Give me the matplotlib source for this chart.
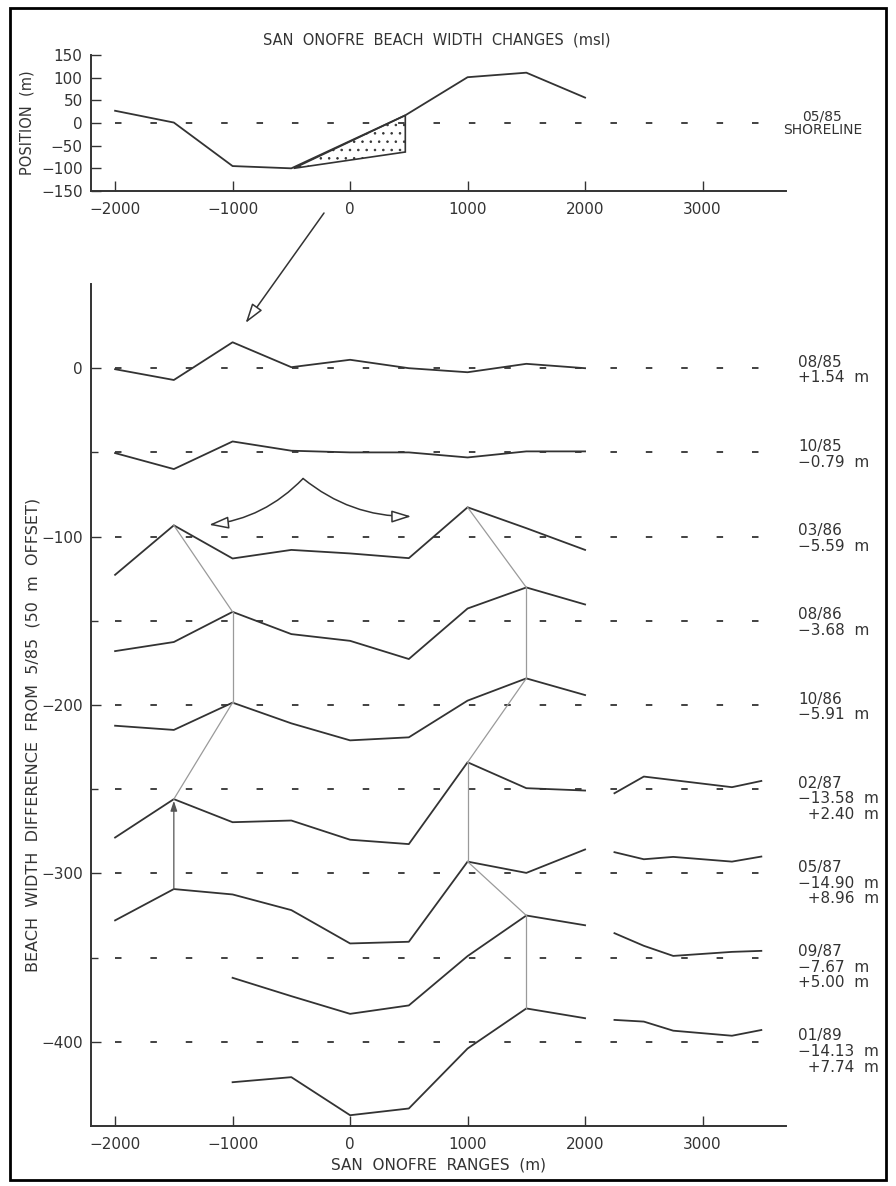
import matplotlib
matplotlib.use('Agg')
import matplotlib.pyplot as plt
from matplotlib.patches import Polygon, Rectangle

# 05/85 shoreline position (top panel)
shore_x = [-2000, -1500, -1000, -500, 470, 1000, 1500, 2000]
shore_y = [27, 1, -95, -100, 17, 101, 111, 56]
# stippled wedge
fill_x = [-480, 470, 470]
fill_y = [-100, 17, -64]

# survey ranges
ranges = [-2000, -1500, -1000, -500, 0, 500, 1000, 1500, 2000]
north = [2250, 2500, 2750, 3250, 3500]

surveys = ['08/85', '10/85', '03/86', '08/86', '10/86', '02/87', '05/87', '09/87', '01/89']
offsets = [0, -50, -100, -150, -200, -250, -300, -350, -400]

south_x = [ranges] * 7 + [ranges[2:]] * 2
south_d = [
  [-0.6, -7, 15.4, 0.6, 5, 0, -2.4, 2.6, 0],
  [-0.4, -9.9, 6.5, 1.0, 0, 0, -3, 0.6, 0.6],
  [-22.7, 6.7, -13, -7.9, -10, -12.8, 17.4, 5, -7.9],
  [-18, -12.6, 5.3, -7.9, -11.9, -22.7, 7.3, 19.8, 9.7],
  [-12.3, -14.8, 1.4, -10.9, -21, -19.2, 2.6, 15.8, 5.9],
  [-28.7, -5.9, -19.6, -18.6, -30, -32.6, 16, 0.6, -0.8],
  [-27.9, -9.3, -12.5, -21.8, -41.6, -40.6, 7, 0.3, 14.2],
  [-12, -22.9, -33.4, -28.4, 0.9, 25, 19.2],
  [-24, -21, -43.6, -39.6, -4, 19.8, 14],
]
north_x = [None] * 5 + [[2250, 2500, 3250, 3500], north, north, north]
north_d = [None] * 5 + [
  [-2.4, 7.5, 1.2, 4.9],
  [12.6, 8.4, 9.8, 7, 10],
  [14.5, 7, 1, 3.4, 4],
  [13, 12, 6.6, 3.6, 7],
]
mean_south = ['+1.54', '\u22120.79', '\u22125.59', '\u22123.68', '\u22125.91',
              '\u221213.58', '\u221214.90', '\u22127.67', '\u221214.13']
mean_north = [None] * 5 + ['+2.40', '+8.96', '+5.00', '+7.74']

# thin lines following features between surveys: (survey, range) -> (survey, range)
links = [((2, -1500), (3, -1000)), ((3, -1000), (4, -1000)), ((4, -1000), (5, -1500)),
         ((2, 1000), (3, 1500)), ((3, 1500), (4, 1500)), ((4, 1500), (5, 1000)),
         ((5, 1000), (6, 1000)), ((6, 1000), (7, 1500)), ((7, 1500), (8, 1500))]
up_arrow = ((6, -1500), (5, -1500))

INK = '#333333'
plt.rcParams['font.family'] = ['DejaVu Sans']
plt.rcParams['text.color'] = INK
plt.rcParams['axes.edgecolor'] = INK
plt.rcParams['axes.labelcolor'] = INK
plt.rcParams['xtick.color'] = INK
plt.rcParams['ytick.color'] = INK
plt.rcParams['hatch.linewidth'] = 0.6

W, H = 896, 1186
fig = plt.figure(figsize=(W / 100, H / 100), dpi=100)

def fx(px): return px / W
def fy(py): return 1 - py / H

def level(i, x):
  return south_d[i][south_x[i].index(x)] + offsets[i]

def style(ax):
  for s in ('top', 'right'):
    ax.spines[s].set_visible(False)
  ax.spines['left'].set_linewidth(1.4)
  ax.spines['bottom'].set_linewidth(1.4)
  ax.tick_params(direction='in', length=7, width=1.0, labelsize=11)
  ax.tick_params(axis='x', pad=8)
  ax.tick_params(axis='y', pad=6)
  ax.set_xlim(-2205, 3710)
  ax.set_xticks([-2000, -1000, 0, 1000, 2000, 3000])

dash = (0, (3.6, 16))

# ---- top panel
top = fig.add_axes([fx(91), fy(191), fx(786) - fx(91), fy(55) - fy(191)])
style(top)
top.set_ylim(-150, 150)
top.set_yticks(range(-150, 151, 50))
top.plot([-2000, 3500], [0, 0], color=INK, lw=1.3, linestyle=dash)
top.plot(shore_x, shore_y, color=INK, lw=1.3)
top.add_patch(Polygon(list(zip(fill_x, fill_y)), closed=True, facecolor='none',
                      edgecolor=INK, lw=1.2, hatch='..'))
top.text(4020, 29, '05/85\nSHORELINE', ha='center', va='top', fontsize=10,
         linespacing=0.95, clip_on=False)
fig.text(fx(437), fy(40), 'SAN  ONOFRE  BEACH  WIDTH  CHANGES  (msl)', ha='center',
         va='center', fontsize=10.5)
fig.text(fx(27), fy(123), 'POSITION  (m)', rotation=90, ha='center', va='center',
         fontsize=10.5)

# ---- main panel
ax = fig.add_axes([fx(91), fy(1126), fx(786) - fx(91), fy(284) - fy(1126)])
style(ax)
ax.set_ylim(-450, 50)
ax.set_yticks([0, -100, -200, -300, -400])
ax.set_yticks([-50, -150, -250, -350], minor=True)
ax.tick_params(which='minor', direction='in', length=5, width=1.0)
ax.set_xlabel('SAN  ONOFRE  RANGES  (m)', fontsize=11, labelpad=4)
fig.text(fx(33), fy(735), 'BEACH  WIDTH  DIFFERENCE  FROM  5/85  (50  m  OFFSET)',
         rotation=90, ha='center', va='center', fontsize=11.5)

for i, name in enumerate(surveys):
  off = offsets[i]
  ax.plot([-2000, 3500], [off, off], color=INK, lw=1.3, linestyle=dash)
  ax.plot(south_x[i], [d + off for d in south_d[i]], color=INK, lw=1.3)
  if north_d[i] is not None:
    ax.plot(north_x[i], [d + off for d in north_d[i]], color=INK, lw=1.3)
  label = name + '\n' + mean_south[i] + '  m'
  if mean_north[i] is not None:
    pad = ' ' * (2 * (len(mean_south[i]) - len(mean_north[i])))
    label += '\n' + pad + mean_north[i] + '  m'
  ax.text(3815, off + 8, label, ha='left', va='top', fontsize=11,
          linespacing=1.05, clip_on=False)

for (a, b) in links:
  ax.plot([a[1], b[1]], [level(*a), level(*b)], color='#9a9a9a', lw=0.9)
ax.annotate('', xy=(up_arrow[1][1], level(*up_arrow[1]) - 1),
            xytext=(up_arrow[0][1], level(*up_arrow[0])),
            arrowprops=dict(arrowstyle='-|>,head_length=0.6,head_width=0.2',
                            color='#555555', lw=0.9, shrinkA=0, shrinkB=0))

# curved arrows (longshore spreading)
for tip, rad in (((-1200, -93), -0.18), ((520, -88), 0.18)):
  ax.annotate('', xy=tip, xytext=(-400, -65.5),
              arrowprops=dict(arrowstyle='-|>,head_length=0.8,head_width=0.25',
                              fc='white', ec=INK, lw=1.1, mutation_scale=15,
                              connectionstyle='arc3,rad=%g' % rad,
                              shrinkA=0, shrinkB=0))

# arrow from top panel into main panel
fig.add_artist(matplotlib.patches.FancyArrowPatch(
  (fx(324), fy(213)), (fx(245.6), fy(323)), transform=fig.transFigure,
  arrowstyle='-|>,head_length=0.8,head_width=0.25', fc='white', ec=INK,
  lw=1.1, mutation_scale=15, shrinkA=0, shrinkB=0))

# page frame
fig.add_artist(Rectangle((fx(10), fy(1180)), fx(886) - fx(10), fy(8) - fy(1180),
                         transform=fig.transFigure, fill=False, ec='black', lw=2))

fig.savefig('out.png', dpi=100)
